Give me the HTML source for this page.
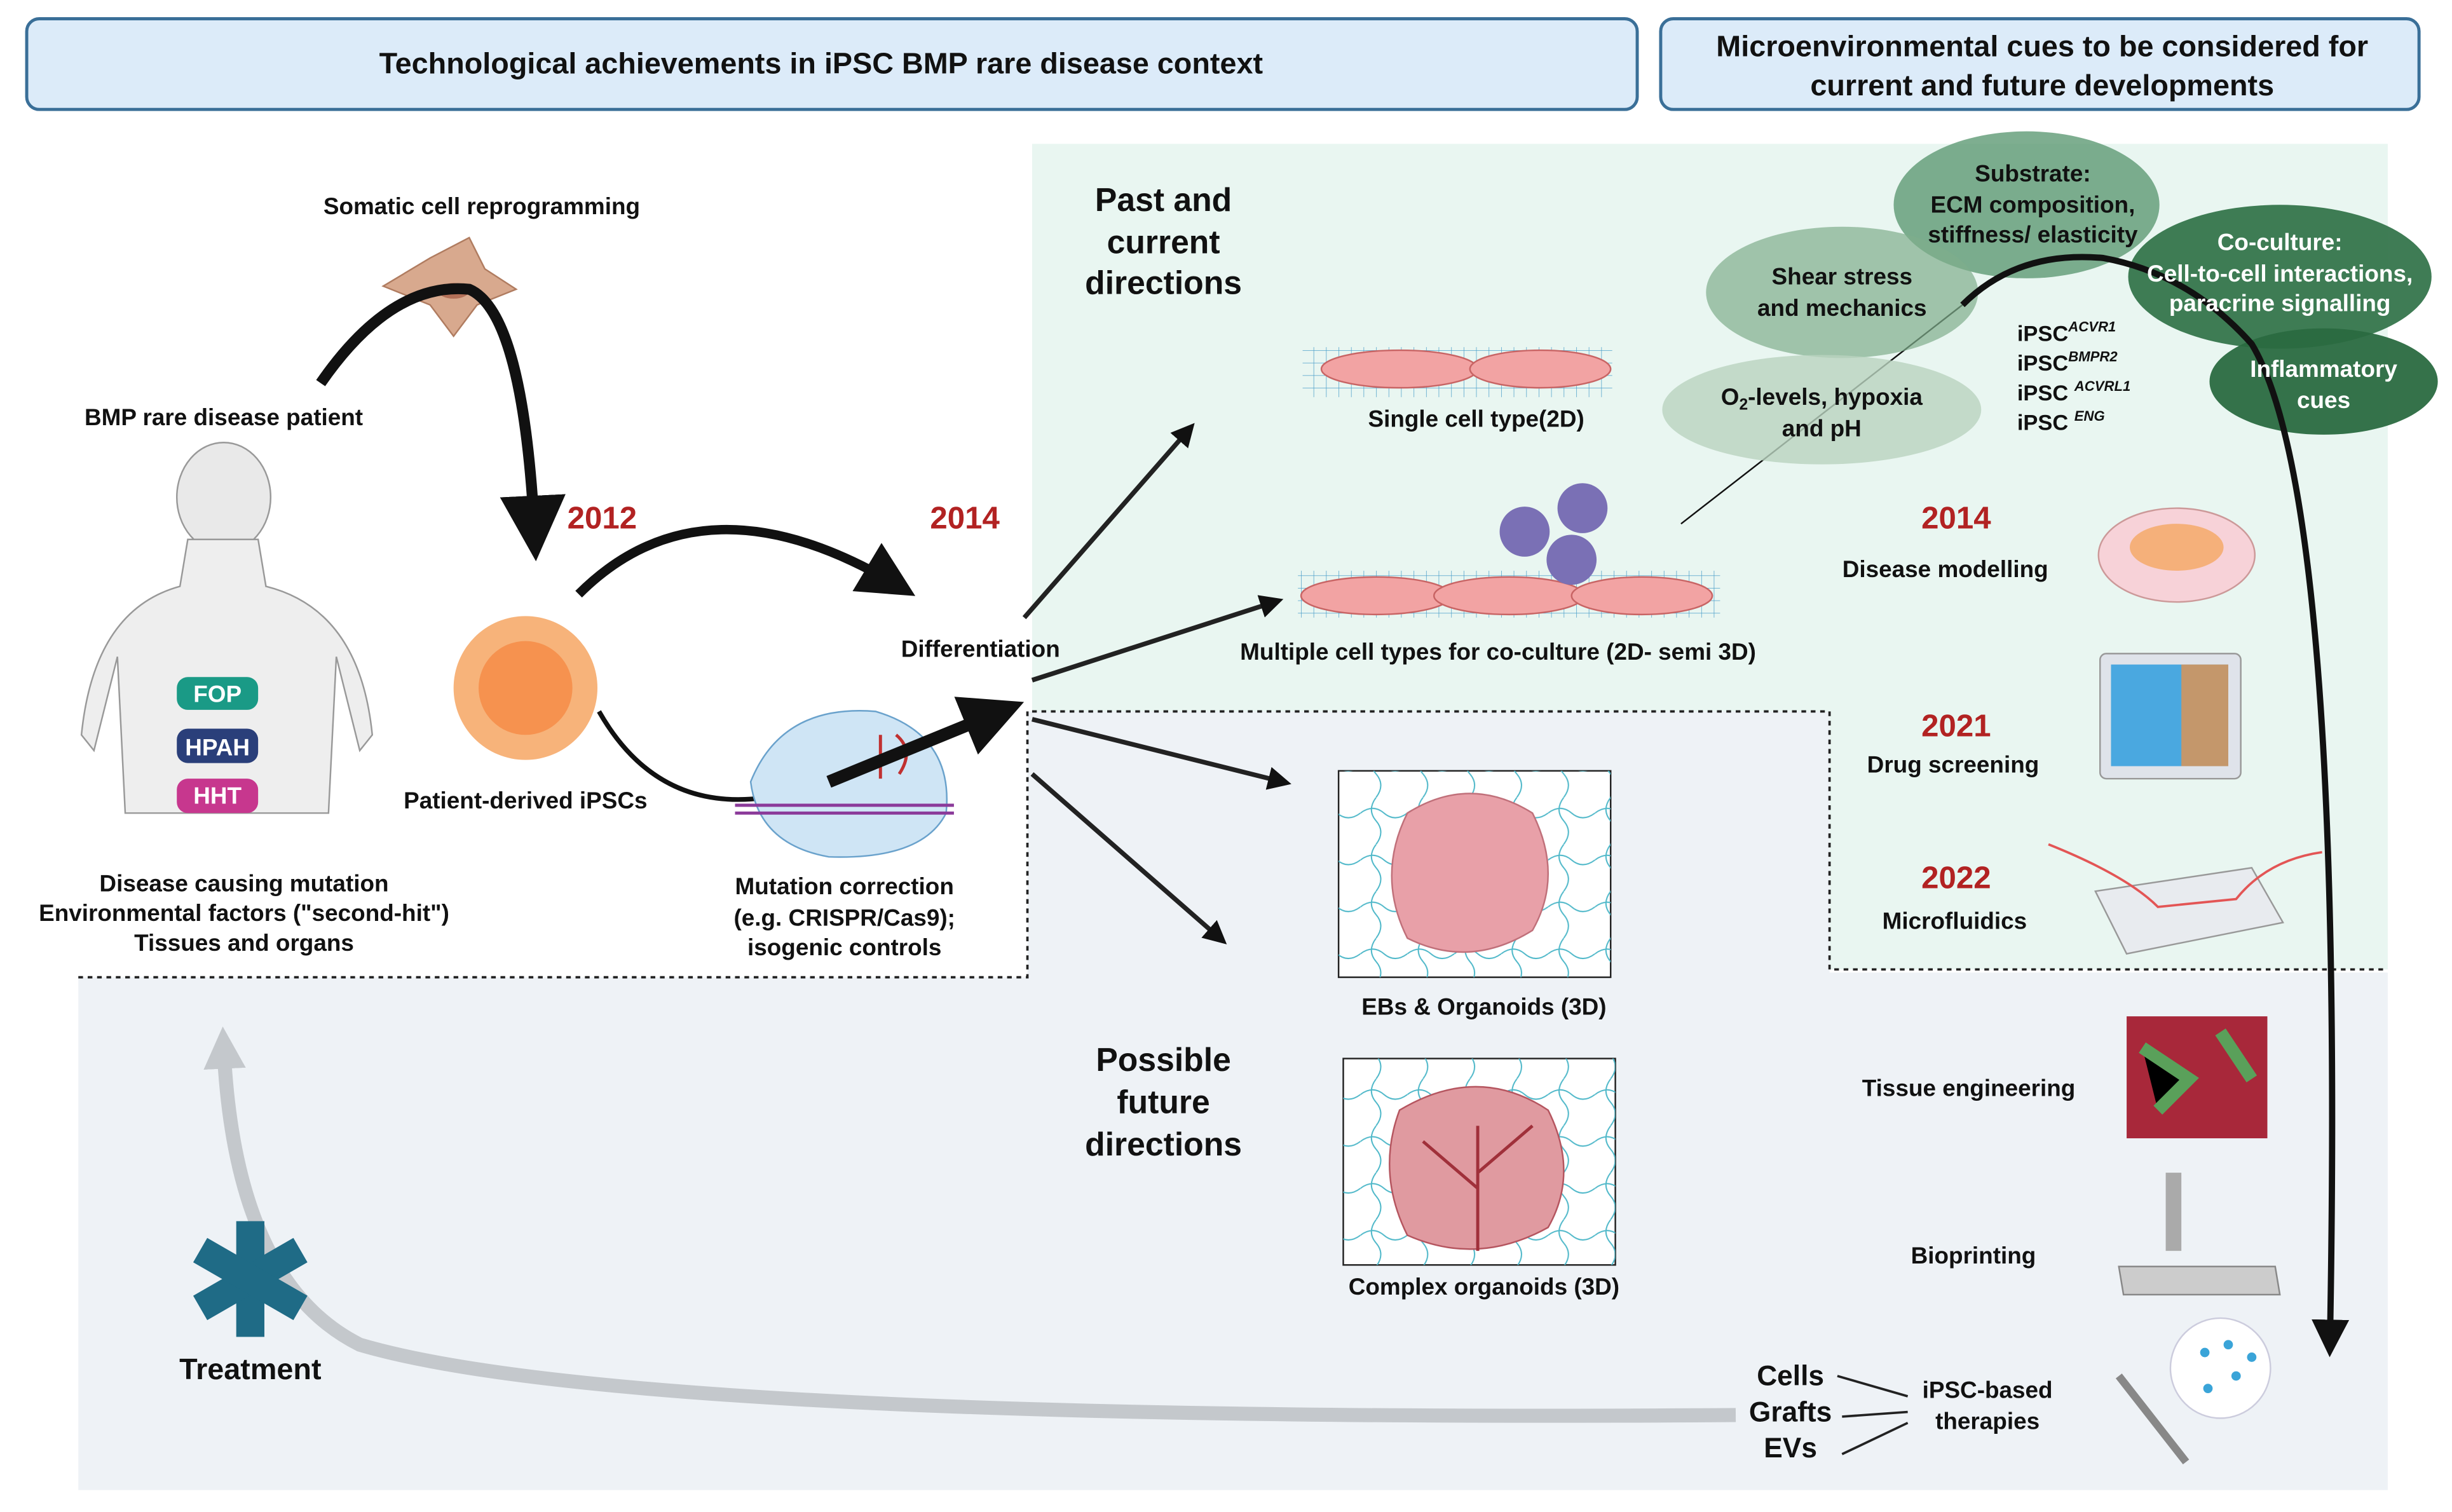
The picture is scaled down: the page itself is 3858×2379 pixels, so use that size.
<!DOCTYPE html>
<html><head><meta charset="utf-8"><style>
html,body{margin:0;padding:0;background:#fff}
svg{display:block}
text{font-family:"Liberation Sans",sans-serif;font-weight:bold;fill:#111}
</style></head><body>
<svg width="3858" height="2379" viewBox="0 0 1568 967" xmlns="http://www.w3.org/2000/svg">
<defs>
<marker id="ah" markerWidth="6" markerHeight="6" refX="4" refY="3" orient="auto" markerUnits="strokeWidth"><path d="M0,0 L6,3 L0,6 z" fill="#111"/></marker>
<marker id="ahs" markerWidth="5" markerHeight="5" refX="3" refY="2.5" orient="auto" markerUnits="strokeWidth"><path d="M0,0 L5,2.5 L0,5 z" fill="#111"/></marker>
<marker id="ahg" markerWidth="3" markerHeight="3" refX="1.5" refY="1.5" orient="auto" markerUnits="strokeWidth"><path d="M0,0 L3,1.5 L0,3 z" fill="#c4c8cc"/></marker>
<pattern id="grid" width="8" height="8" patternUnits="userSpaceOnUse"><path d="M0,0 L8,0 M0,0 L0,8" stroke="#4a9ec9" stroke-width="0.6" fill="none"/></pattern>
<pattern id="wave" width="30" height="30" patternUnits="userSpaceOnUse"><path d="M0,10 Q8,4 15,10 T30,10 M10,0 Q4,8 10,15 T10,30" stroke="#4fb8c9" stroke-width="0.8" fill="none"/></pattern>
</defs>
<rect width="1568" height="967" fill="#fff"/>
<!-- regions -->
<rect x="660" y="92" width="867" height="528" fill="#e9f6f1"/>
<path d="M50,625 L657,625 L657,455 L1170,455 L1170,622 L1527,622 L1527,953 L50,953 Z" fill="#eef2f6"/>
<path d="M50,625 L657,625 L657,455 L1170,455 L1170,620 L1527,620" fill="none" stroke="#222" stroke-width="1.5" stroke-dasharray="3,3"/>
<!-- headers -->
<rect x="17" y="12" width="1030" height="58" rx="8" fill="#dcebf9" stroke="#3a6f98" stroke-width="2"/>
<text x="525" y="47" font-size="19" text-anchor="middle">Technological achievements in iPSC BMP rare disease context</text>
<rect x="1062" y="12" width="485" height="58" rx="8" fill="#dcebf9" stroke="#3a6f98" stroke-width="2"/>
<text x="1306" y="36" font-size="19" text-anchor="middle">Microenvironmental cues to be considered for</text>
<text x="1306" y="61" font-size="19" text-anchor="middle">current and future developments</text>
<!-- left part -->
<text x="308" y="137" font-size="15" text-anchor="middle">Somatic cell reprogramming</text>
<path d="M245,183 L275,165 L300,152 L310,172 L330,185 L305,195 L290,215 L275,195 Z" fill="#d8a98e" stroke="#b07c60"/>
<ellipse cx="290" cy="186" rx="10" ry="5" fill="#b37058"/>
<path d="M205,245 Q250,180 300,185 Q335,200 342,345" fill="none" stroke="#111" stroke-width="7" marker-end="url(#ah)"/>
<text x="385" y="338" font-size="20" fill="#b22222" style="fill:#b22222" text-anchor="middle">2012</text>
<text x="617" y="338" font-size="20" style="fill:#b22222" text-anchor="middle">2014</text>
<text x="143" y="272" font-size="15" text-anchor="middle">BMP rare disease patient</text>
<!-- person -->
<ellipse cx="143" cy="318" rx="30" ry="35" fill="#e9e9e9" stroke="#999"/>
<path d="M120,345 L165,345 L170,375 Q230,390 238,470 L230,480 L215,420 L210,520 L80,520 L75,420 L60,480 L52,470 Q60,390 115,375 Z" fill="#eeeeee" stroke="#999"/>
<rect x="113" y="433" width="52" height="21" rx="7" fill="#1a9a86"/>
<text x="139" y="449" font-size="15" text-anchor="middle" style="fill:#fff">FOP</text>
<rect x="113" y="466" width="52" height="22" rx="7" fill="#2a3f7a"/>
<text x="139" y="483" font-size="15" text-anchor="middle" style="fill:#fff">HPAH</text>
<rect x="113" y="498" width="52" height="22" rx="7" fill="#c7378e"/>
<text x="139" y="514" font-size="15" text-anchor="middle" style="fill:#fff">HHT</text>
<text x="156" y="570" font-size="15" text-anchor="middle">Disease causing mutation</text>
<text x="156" y="589" font-size="15" text-anchor="middle">Environmental factors ("second-hit")</text>
<text x="156" y="608" font-size="15" text-anchor="middle">Tissues and organs</text>
<!-- iPSC -->
<circle cx="336" cy="440" r="46" fill="#f7b37a"/>
<circle cx="336" cy="440" r="30" fill="#f58a45" opacity="0.8"/>
<text x="336" y="517" font-size="15" text-anchor="middle">Patient-derived iPSCs</text>
<path d="M370,380 Q450,300 575,375" fill="none" stroke="#111" stroke-width="6" marker-end="url(#ah)"/>
<path d="M383,455 Q420,520 490,510" fill="none" stroke="#111" stroke-width="3"/>
<!-- CRISPR -->
<path d="M480,500 Q500,450 560,455 Q610,470 605,520 Q590,550 530,548 Q485,540 480,500 Z" fill="#cfe5f5" stroke="#6aa2cc"/>
<path d="M470,515 L610,515 M470,520 L610,520" stroke="#8b3a9a" stroke-width="2"/>
<path d="M563,470 L563,498 M573,470 Q585,480 575,495" stroke="#c03030" stroke-width="2" fill="none"/>
<path d="M530,500 L640,455" stroke="#111" stroke-width="8" marker-end="url(#ahs)"/>
<text x="540" y="572" font-size="15" text-anchor="middle">Mutation correction</text>
<text x="540" y="592" font-size="15" text-anchor="middle">(e.g. CRISPR/Cas9);</text>
<text x="540" y="611" font-size="15" text-anchor="middle">isogenic controls</text>
<text x="627" y="420" font-size="15" text-anchor="middle">Differentiation</text>
<!-- green arrows -->
<path d="M655,395 L760,275" stroke="#222" stroke-width="3" marker-end="url(#ahs)"/>
<path d="M660,435 L815,385" stroke="#222" stroke-width="3" marker-end="url(#ahs)"/>
<path d="M660,460 L820,500" stroke="#222" stroke-width="3" marker-end="url(#ahs)"/>
<path d="M660,495 L780,600" stroke="#222" stroke-width="3" marker-end="url(#ahs)"/>
<text x="744" y="135" font-size="21" text-anchor="middle">Past and</text>
<text x="744" y="162" font-size="21" text-anchor="middle">current</text>
<text x="744" y="188" font-size="21" text-anchor="middle">directions</text>
<text x="744" y="685" font-size="21" text-anchor="middle">Possible</text>
<text x="744" y="712" font-size="21" text-anchor="middle">future</text>
<text x="744" y="739" font-size="21" text-anchor="middle">directions</text>
<!-- 2D cells -->
<rect x="833" y="222" width="198" height="32" fill="url(#grid)"/>
<ellipse cx="895" cy="236" rx="50" ry="12" fill="#f2a3a3" stroke="#c86464"/>
<ellipse cx="985" cy="236" rx="45" ry="12" fill="#f2a3a3" stroke="#c86464"/>
<text x="944" y="273" font-size="15" text-anchor="middle">Single cell type(2D)</text>
<rect x="830" y="365" width="270" height="30" fill="url(#grid)"/>
<ellipse cx="880" cy="381" rx="48" ry="12" fill="#f2a3a3" stroke="#c86464"/>
<ellipse cx="965" cy="381" rx="48" ry="12" fill="#f2a3a3" stroke="#c86464"/>
<ellipse cx="1050" cy="381" rx="45" ry="12" fill="#f2a3a3" stroke="#c86464"/>
<circle cx="975" cy="340" r="16" fill="#7a70b5"/><circle cx="1012" cy="325" r="16" fill="#7a70b5"/><circle cx="1005" cy="358" r="16" fill="#7a70b5"/>
<text x="958" y="422" font-size="15" text-anchor="middle">Multiple cell types for co-culture (2D- semi 3D)</text>
<!-- organoids -->
<rect x="856" y="493" width="174" height="132" fill="#fff" stroke="#222"/>
<rect x="856" y="493" width="174" height="132" fill="url(#wave)"/>
<path d="M900,520 Q940,495 980,520 Q1000,560 980,595 Q940,620 900,600 Q880,560 900,520 Z" fill="#e8a0a8" stroke="#c0707a"/>
<text x="949" y="649" font-size="15" text-anchor="middle">EBs &amp; Organoids (3D)</text>
<rect x="859" y="677" width="174" height="132" fill="#fff" stroke="#222"/>
<rect x="859" y="677" width="174" height="132" fill="url(#wave)"/>
<path d="M895,710 Q945,680 990,710 Q1010,750 990,785 Q945,810 900,790 Q880,750 895,710 Z" fill="#e09aa0" stroke="#b5555f"/>
<path d="M945,800 L945,720 M945,760 L910,730 M945,750 L980,720" stroke="#a0303a" stroke-width="2" fill="none"/>
<text x="949" y="828" font-size="15" text-anchor="middle">Complex organoids (3D)</text>
<!-- ellipses -->
<line x1="1075" y1="335" x2="1255" y2="195" stroke="#111" stroke-width="1"/>
<ellipse cx="1296" cy="131" rx="85" ry="47" fill="#5e9a74" opacity="0.8"/>
<ellipse cx="1178" cy="187" rx="87" ry="42" fill="#7fae8c" opacity="0.7"/>
<ellipse cx="1165" cy="262" rx="102" ry="35" fill="#b9d3bf" opacity="0.8"/>
<ellipse cx="1458" cy="177" rx="97" ry="46" fill="#2f7146" opacity="0.92"/>
<ellipse cx="1486" cy="244" rx="73" ry="34" fill="#2a6a40" opacity="0.95"/>
<path d="M1255,195 Q1290,160 1345,165 Q1400,175 1440,220 Q1500,320 1490,860" fill="none" stroke="#111" stroke-width="4" marker-end="url(#ah)"/>
<text x="1300" y="116" font-size="15" text-anchor="middle">Substrate:</text>
<text x="1300" y="136" font-size="15" text-anchor="middle">ECM composition,</text>
<text x="1300" y="155" font-size="15" text-anchor="middle">stiffness/ elasticity</text>
<text x="1178" y="182" font-size="15" text-anchor="middle">Shear stress</text>
<text x="1178" y="202" font-size="15" text-anchor="middle">and mechanics</text>
<text x="1165" y="259" font-size="15" text-anchor="middle">O<tspan font-size="10" dy="3">2</tspan><tspan dy="-3">-levels, hypoxia</tspan></text>
<text x="1165" y="279" font-size="15" text-anchor="middle">and pH</text>
<text x="1458" y="160" font-size="15" text-anchor="middle" style="fill:#fff">Co-culture:</text>
<text x="1458" y="180" font-size="15" text-anchor="middle" style="fill:#fff">Cell-to-cell interactions,</text>
<text x="1458" y="199" font-size="15" text-anchor="middle" style="fill:#fff">paracrine signalling</text>
<text x="1486" y="241" font-size="15" text-anchor="middle" style="fill:#fff">Inflammatory</text>
<text x="1486" y="261" font-size="15" text-anchor="middle" style="fill:#fff">cues</text>
<text x="1290" y="218" font-size="14">iPSC<tspan font-size="9" dy="-6" font-style="italic">ACVR1</tspan></text>
<text x="1290" y="237" font-size="14">iPSC<tspan font-size="9" dy="-6" font-style="italic">BMPR2</tspan></text>
<text x="1290" y="256" font-size="14">iPSC <tspan font-size="9" dy="-6" font-style="italic">ACVRL1</tspan></text>
<text x="1290" y="275" font-size="14">iPSC <tspan font-size="9" dy="-6" font-style="italic">ENG</tspan></text>
<!-- right column -->
<text x="1251" y="338" font-size="20" style="fill:#b22222" text-anchor="middle">2014</text>
<text x="1244" y="369" font-size="15" text-anchor="middle">Disease modelling</text>
<ellipse cx="1392" cy="355" rx="50" ry="30" fill="#f7d2d8" stroke="#c99"/>
<ellipse cx="1392" cy="350" rx="30" ry="15" fill="#f5b07a"/>
<text x="1251" y="471" font-size="20" style="fill:#b22222" text-anchor="middle">2021</text>
<text x="1249" y="494" font-size="15" text-anchor="middle">Drug screening</text>
<rect x="1343" y="418" width="90" height="80" rx="4" fill="#dfe3ea" stroke="#999"/>
<rect x="1350" y="425" width="75" height="65" fill="#4aa8e0"/>
<rect x="1395" y="425" width="30" height="65" fill="#e2924e" opacity="0.8"/>
<text x="1251" y="568" font-size="20" style="fill:#b22222" text-anchor="middle">2022</text>
<text x="1250" y="594" font-size="15" text-anchor="middle">Microfluidics</text>
<path d="M1340,570 L1440,555 L1460,590 L1360,610 Z" fill="#e8ebef" stroke="#999"/>
<path d="M1310,540 Q1360,560 1380,580 L1430,575 Q1450,550 1485,545" stroke="#e35555" stroke-width="1.5" fill="none"/>
<text x="1259" y="701" font-size="15" text-anchor="middle">Tissue engineering</text>
<rect x="1360" y="650" width="90" height="78" fill="#a8283a"/>
<path d="M1370,670 L1400,690 L1380,710 M1420,660 L1440,690" stroke="#5aa05a" stroke-width="8"/>
<text x="1262" y="808" font-size="15" text-anchor="middle">Bioprinting</text>
<rect x="1385" y="750" width="10" height="50" fill="#aaa"/>
<path d="M1355,810 L1455,810 L1458,828 L1358,828 Z" fill="#ccc" stroke="#888"/>
<circle cx="1420" cy="875" r="32" fill="#fff" stroke="#ccd"/>
<circle cx="1410" cy="865" r="3" fill="#3aa4d8"/><circle cx="1425" cy="860" r="3" fill="#3aa4d8"/><circle cx="1430" cy="880" r="3" fill="#3aa4d8"/><circle cx="1412" cy="888" r="3" fill="#3aa4d8"/><circle cx="1440" cy="868" r="3" fill="#3aa4d8"/>
<path d="M1355,880 L1398,935" stroke="#888" stroke-width="5"/>
<text x="1145" y="886" font-size="18" text-anchor="middle">Cells</text>
<text x="1145" y="909" font-size="18" text-anchor="middle">Grafts</text>
<text x="1145" y="932" font-size="18" text-anchor="middle">EVs</text>
<path d="M1175,880 L1220,893 M1178,906 L1220,903 M1178,930 L1220,910" stroke="#222" stroke-width="1.5"/>
<text x="1271" y="894" font-size="15" text-anchor="middle">iPSC-based</text>
<text x="1271" y="914" font-size="15" text-anchor="middle">therapies</text>
<!-- treatment arrow -->
<path d="M1110,905 Q400,910 230,860 Q150,820 143,670" fill="none" stroke="#c4c8cc" stroke-width="9" marker-end="url(#ahg)"/>
<g transform="translate(160,818)" fill="#1f6b86">
<rect x="-9" y="-37" width="18" height="74"/>
<rect x="-9" y="-37" width="18" height="74" transform="rotate(60)"/>
<rect x="-9" y="-37" width="18" height="74" transform="rotate(-60)"/>
</g>
<text x="160" y="882" font-size="19" text-anchor="middle">Treatment</text>
</svg>
</body></html>
